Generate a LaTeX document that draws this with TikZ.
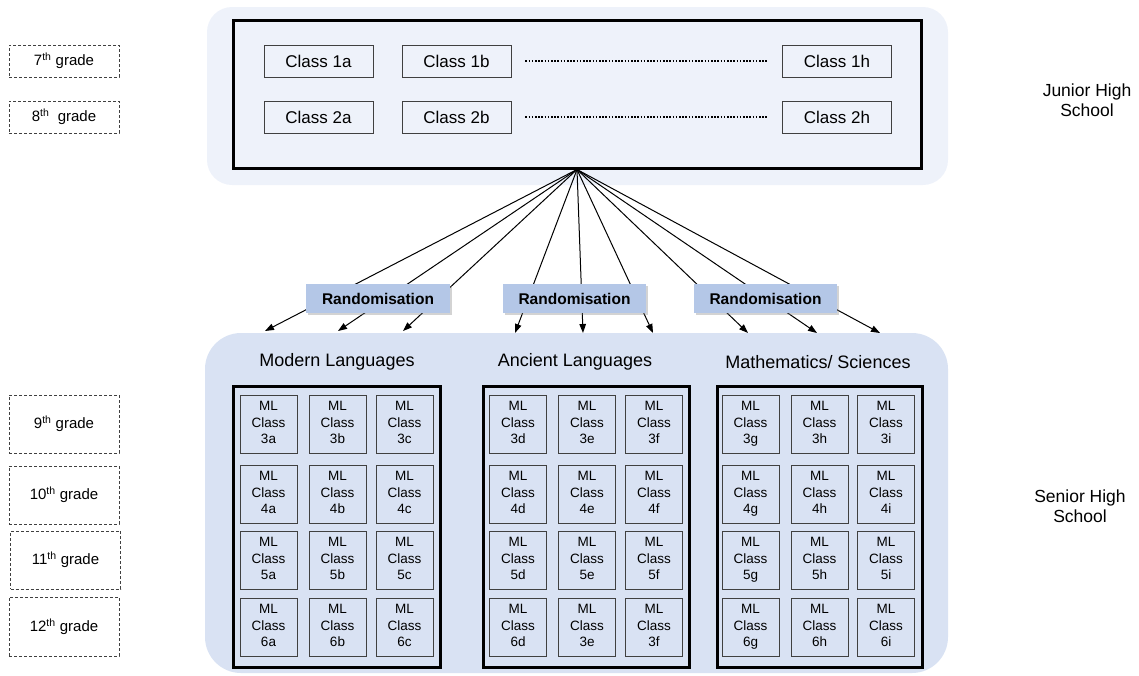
\documentclass[tikz,border=0pt]{standalone}
\usepackage{fontspec}
\setmainfont{Liberation Sans}
\usetikzlibrary{arrows.meta,shadows}
\definecolor{topbg}{HTML}{EEF2FA}
\definecolor{botbg}{HTML}{D9E2F3}
\definecolor{randfill}{HTML}{B4C7E7}
\definecolor{boxline}{HTML}{404040}
\begin{document}
\begin{tikzpicture}[x=1pt,y=-1pt,
  classbox/.style={draw=boxline, line width=0.8pt, fill=topbg, minimum width=109pt, minimum height=32pt, inner sep=0pt, font=\fontsize{17}{20}\selectfont},
  gradebox/.style={draw=boxline, line width=0.7pt, dash pattern=on 3pt off 2pt, minimum width=110pt, inner sep=0pt, font=\fontsize{15}{18}\selectfont},
  randbox/.style={fill=randfill, minimum width=143pt, minimum height=29pt, inner sep=0pt, font=\bfseries\fontsize{15.5}{18}\selectfont, drop shadow={shadow xshift=2pt, shadow yshift=-2pt, opacity=0.35}},
  thickbox/.style={draw=black, line width=3pt, inner sep=0pt},
  mlbox/.style={draw=boxline, line width=0.8pt, fill=botbg, minimum width=57pt, minimum height=58pt, inner sep=0pt, align=center, font=\fontsize{13.5}{16.5}\selectfont},
  sectitle/.style={font=\fontsize{18}{21}\selectfont},
  sidelabel/.style={align=center, font=\fontsize{17.5}{20}\selectfont},
  dotline/.style={line width=1.6pt, dash pattern=on 1.6pt off 1.6pt},
  conn/.style={line width=1pt, -{Triangle[length=9pt,width=6.5pt]}}
]
\useasboundingbox (0,0) rectangle (1139,675);

% backgrounds
\fill[topbg, rounded corners=25pt] (207,7) rectangle (948,185);
\fill[botbg, rounded corners=36pt] (205,333) rectangle (948,673);

% junior high
\node[thickbox, minimum width=688pt, minimum height=148pt] (jbox) at (577,94) {};
\node[classbox] (c1a) at (318.5,61) {Class 1a};
\node[classbox] (c1b) at (456.5,61) {Class 1b};
\node[classbox] (c1h) at (837,61) {Class 1h};
\node[classbox] (c2a) at (318.5,117) {Class 2a};
\node[classbox] (c2b) at (456.5,117) {Class 2b};
\node[classbox] (c2h) at (837,117) {Class 2h};
\draw[dotline] ([xshift=14pt]c1b.east) -- ([xshift=-15pt]c1h.west);
\draw[dotline] ([xshift=14pt]c2b.east) -- ([xshift=-15pt]c2h.west);

% grades
\node[gradebox, minimum height=32pt] (g7) at (64,61) {7\textsuperscript{th} grade};
\node[gradebox, minimum height=32pt] (g8) at (64,117) {8\textsuperscript{th}\ \ grade};
\node[gradebox, minimum height=58pt] (g9) at (64,424) {9\textsuperscript{th} grade};
\node[gradebox, minimum height=58pt] (g10) at (64,495) {10\textsuperscript{th} grade};
\node[gradebox, minimum height=58pt] (g11) at (65.5,560) {11\textsuperscript{th} grade};
\node[gradebox, minimum height=59pt] (g12) at (64,626.5) {12\textsuperscript{th} grade};

% side labels
\node[sidelabel] (jhs) at (1087,100) {Junior High\\School};
\node[sidelabel] (shs) at (1080,506) {Senior High\\School};

% arrows
\coordinate (e1) at (265,331);
\coordinate (e2) at (338,331);
\coordinate (e3) at (403,331);
\coordinate (e4) at (515,333);
\coordinate (e5) at (583,333);
\coordinate (e6) at (653,333);
\coordinate (e7) at (748,333);
\coordinate (e8) at (817,333);
\coordinate (e9) at (880,333);
\foreach \e in {e1,e2,e3,e4,e5,e6,e7,e8,e9}
  \draw[conn] (jbox.south) -- (\e);

% randomisation
\node[randbox, minimum width=144pt] (r1) at (378,298.5) {Randomisation};
\node[randbox] (r2) at (574.5,298.5) {Randomisation};
\node[randbox] (r3) at (765.5,298.5) {Randomisation};

% section titles
\node[sectitle] (tml) at (337,362) {Modern Languages};
\node[sectitle] (tal) at (575,362) {Ancient Languages};
\node[sectitle] (tms) at (818,362) {Mathematics/ Sciences};

% senior thick boxes
\node[thickbox, minimum width=207pt, minimum height=281pt] (bml) at (336.5,526.5) {};
\node[thickbox, minimum width=206pt, minimum height=281pt] (bal) at (586,526.5) {};
\node[thickbox, minimum width=205pt, minimum height=281pt] (bms) at (819.5,526.5) {};

% small boxes
\foreach \r/\y in {3/424,4/494,5/560,6/627}{
  \node[mlbox] (m\r a) at (268.5,\y) {ML\\Class\\\r a\vphantom{g}};
  \node[mlbox] (m\r b) at (337.5,\y) {ML\\Class\\\r b\vphantom{g}};
  \node[mlbox] (m\r c) at (404.5,\y) {ML\\Class\\\r c\vphantom{g}};
  \node[mlbox] (m\r g) at (750.5,\y) {ML\\Class\\\r g};
  \node[mlbox] (m\r h) at (819.5,\y) {ML\\Class\\\r h\vphantom{g}};
  \node[mlbox] (m\r i) at (886,\y) {ML\\Class\\\r i\vphantom{g}};
}
\foreach \r/\y in {3/424,4/494,5/560}{
  \node[mlbox] (m\r d) at (518,\y) {ML\\Class\\\r d\vphantom{g}};
  \node[mlbox] (m\r e) at (587,\y) {ML\\Class\\\r e\vphantom{g}};
  \node[mlbox] (m\r f) at (654,\y) {ML\\Class\\\r f\vphantom{g}};
}
\node[mlbox] (m6d) at (518,627) {ML\\Class\\6d\vphantom{g}};
\node[mlbox] (m6e) at (587,627) {ML\\Class\\3e\vphantom{g}};
\node[mlbox] (m6f) at (654,627) {ML\\Class\\3f\vphantom{g}};
\end{tikzpicture}
\end{document}
